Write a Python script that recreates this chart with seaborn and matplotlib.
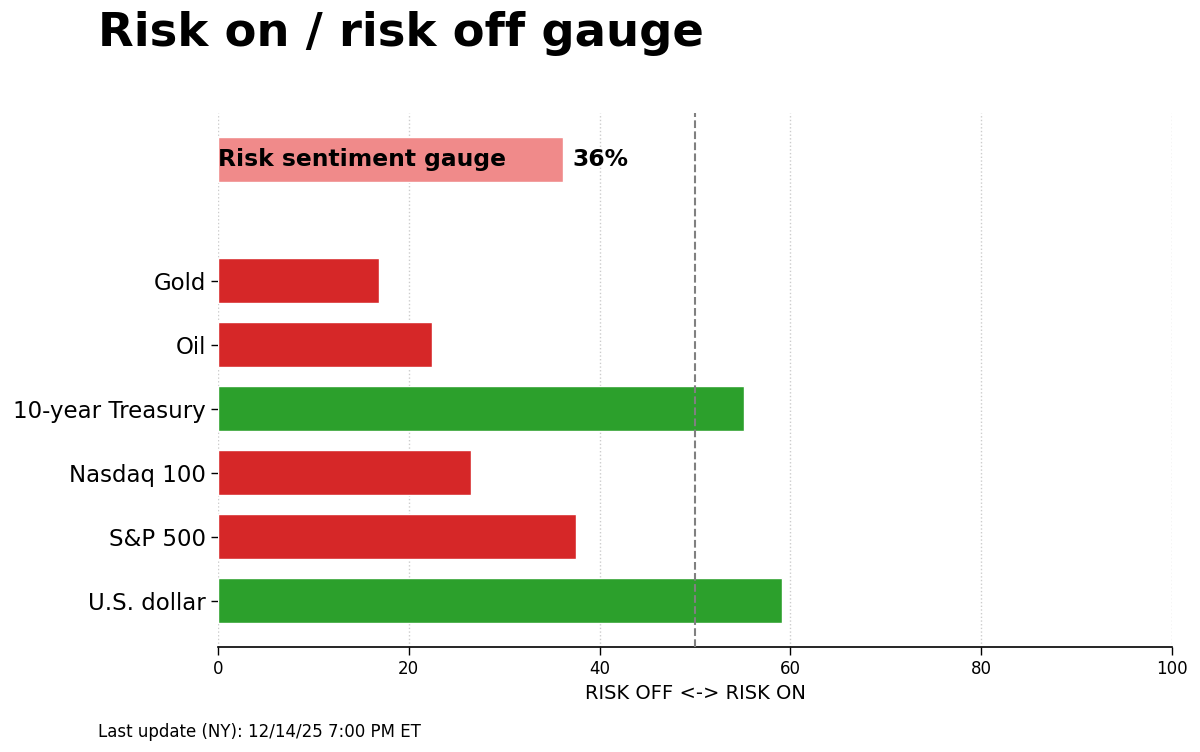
import matplotlib
matplotlib.use('Agg')
import matplotlib.pyplot as plt
import seaborn as sns
import pandas as pd

# Chart data
assets = ["Gold", "Oil", "10-year Treasury", "Nasdaq 100", "S&P 500", "U.S. dollar"]
scores = [16.9, 22.4, 55.1, 26.5, 37.5, 59.1]
gauge_label = "Risk sentiment gauge"
gauge_value = 36.2
x_ticks = [0, 20, 40, 60, 80, 100]

RED = "#d62728"
GREEN = "#2ca02c"

df = pd.DataFrame({"asset": assets, "score": scores})
df["side"] = ["on" if s >= 50 else "off" for s in scores]

sns.set_style("white")
plt.rcParams.update({"text.color": "black", "axes.labelcolor": "black",
                     "xtick.color": "black", "ytick.color": "black"})
fig = plt.figure(figsize=(12, 7.52), dpi=100)
ax = fig.add_axes([218 / 1200, 1 - 647 / 752, (1172 - 218) / 1200, (647 - 113) / 752])

sns.barplot(data=df, x="score", y="asset", hue="side", dodge=False, saturation=1,
            palette={"off": RED, "on": GREEN}, width=0.7, legend=False, ax=ax)

# Overall gauge bar above the assets
gauge_y = -1.9
ax.barh(gauge_y, gauge_value, height=0.7, color="#f08a8a")
ax.text(0, gauge_y, gauge_label, va="center", ha="left", fontsize=16.8, fontweight="bold")
ax.text(gauge_value + 1, gauge_y, f"{round(gauge_value)}%", va="center", ha="left",
        fontsize=16.8, fontweight="bold")

ax.axvline(50, color="grey", linestyle="--", linewidth=1.5, zorder=5)
ax.set_xlim(0, 100)
ax.set_ylim(5.72, -2.62)
ax.set_xticks(x_ticks)
ax.xaxis.grid(True, linestyle=":", color="#cccccc", linewidth=1)
ax.set_axisbelow(True)
for s in ["top", "right", "left"]:
    ax.spines[s].set_visible(False)
ax.spines["bottom"].set_color("black")
ax.spines["bottom"].set_linewidth(1.2)
ax.tick_params(axis="y", labelsize=16.5, left=True, length=5, width=1, pad=3.5)
ax.tick_params(axis="x", labelsize=12, bottom=True, length=6, width=1)
ax.set_ylabel("")
ax.set_xlabel("RISK OFF <-> RISK ON", fontsize=14)

fig.text(98 / 1200, 1 - 33 / 752, "Risk on / risk off gauge", fontsize=33.5,
         fontweight="bold", va="center", ha="left")
fig.text(98 / 1200, 1 - 732 / 752, "Last update (NY): 12/14/25 7:00 PM ET",
         fontsize=12, va="center", ha="left")

fig.savefig("out.png", dpi=100)
plt.close(fig)
